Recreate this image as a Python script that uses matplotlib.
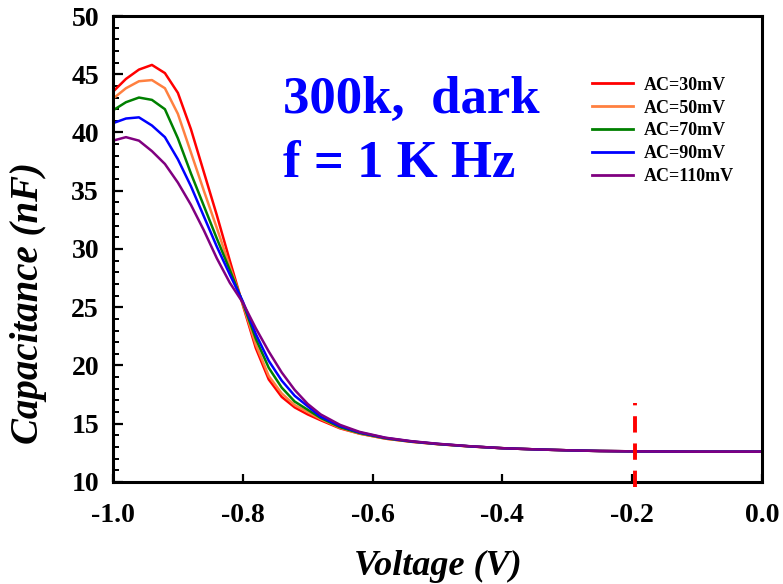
import matplotlib
matplotlib.use("Agg")
import matplotlib.pyplot as plt
from matplotlib.ticker import MultipleLocator

plt.rcParams['font.family'] = ['Liberation Serif', 'DejaVu Serif']
plt.rcParams['font.weight'] = 'bold'

# bias sweep (V)
voltage = [-1.0, -0.98, -0.96, -0.94, -0.92, -0.90, -0.88, -0.86, -0.84, -0.82,
           -0.80, -0.78, -0.76, -0.74, -0.72, -0.70, -0.68, -0.65, -0.62, -0.58,
           -0.54, -0.50, -0.45, -0.40, -0.35, -0.30, -0.25, -0.20, -0.10, 0.0]

# capacitance (nF) for each AC amplitude
cap_30 = [43.5, 44.6, 45.4, 45.8, 45.1, 43.4, 40.3, 36.6, 32.9, 29.0,
          25.2, 21.5, 18.8, 17.3, 16.4, 15.8, 15.3, 14.6, 14.15, 13.72,
          13.45, 13.25, 13.05, 12.9, 12.8, 12.72, 12.66, 12.63, 12.6, 12.6]
cap_50 = [42.9, 43.8, 44.4, 44.5, 43.8, 41.6, 38.3, 35.0, 31.8, 28.5,
          25.3, 21.8, 19.1, 17.6, 16.6, 16.0, 15.4, 14.65, 14.15, 13.72,
          13.45, 13.25, 13.05, 12.9, 12.8, 12.72, 12.66, 12.63, 12.6, 12.6]
cap_70 = [41.9, 42.6, 43.0, 42.8, 42.0, 39.5, 36.5, 33.7, 30.9, 28.2,
          25.4, 22.3, 19.8, 18.1, 16.9, 16.2, 15.5, 14.7, 14.2, 13.75,
          13.47, 13.26, 13.06, 12.9, 12.8, 12.72, 12.66, 12.63, 12.6, 12.6]
cap_90 = [40.8, 41.2, 41.3, 40.6, 39.6, 37.7, 35.4, 32.8, 30.2, 27.8,
          25.5, 22.7, 20.4, 18.7, 17.4, 16.5, 15.6, 14.8, 14.25, 13.78,
          13.48, 13.27, 13.06, 12.9, 12.8, 12.72, 12.66, 12.63, 12.6, 12.6]
cap_110 = [39.3, 39.6, 39.3, 38.4, 37.3, 35.7, 33.8, 31.6, 29.2, 27.1,
           25.4, 23.2, 21.2, 19.4, 17.9, 16.7, 15.8, 14.9, 14.3, 13.8,
           13.5, 13.28, 13.07, 12.9, 12.8, 12.72, 12.66, 12.63, 12.6, 12.6]

series = [cap_30, cap_50, cap_70, cap_90, cap_110]
labels = ['AC=30mV', 'AC=50mV', 'AC=70mV', 'AC=90mV', 'AC=110mV']
colors = ['#ff0000', '#ff8040', '#008000', '#0000ff', '#800080']

# marker position
v_mark = -0.195
mark_span = [9.6, 16.8]

fig = plt.figure(figsize=(7.83, 5.84), dpi=100)
ax = fig.add_axes([0.1443, 0.1747, 0.8289, 0.7979])

for c, lab, col in zip(series, labels, colors):
    ax.plot(voltage, c, color=col, lw=1.8, label=lab)

ax.plot([v_mark, v_mark], mark_span, color='red', lw=2.8,
        dashes=(4.2, 2.8), clip_on=False, zorder=5)

ax.set_xlim(-1.0, 0.0)
ax.set_ylim(10, 50)
ax.yaxis.set_major_locator(MultipleLocator(5))
ax.yaxis.set_minor_locator(MultipleLocator(1))
ax.set_xticks([-1.0, -0.8, -0.6, -0.4, -0.2, 0.0])
ax.set_xticklabels(['-1.0', '-0.8', '-0.6', '-0.4', '-0.2', '0.0'])

for s in ax.spines.values():
    s.set_linewidth(2.2)
ax.tick_params(axis='both', which='both', direction='in', top=False, right=False)
ax.tick_params(axis='x', which='major', length=6, width=1.6, labelsize=20, pad=15)
ax.tick_params(axis='y', which='major', length=7, width=1.6, labelsize=20, pad=10)
ax.tick_params(axis='y', which='minor', length=4, width=1.4)
for t in ax.get_xticklabels() + ax.get_yticklabels():
    t.set_fontweight('bold')

ax.set_xlabel('Voltage (V)', fontsize=26, fontweight='bold', style='italic', labelpad=16)
ax.set_ylabel('Capacitance (nF)', fontsize=28, fontweight='bold', style='italic')
ax.yaxis.set_label_coords(-0.101, 0.384)

ax.text(0.262, 0.792, '300k,  dark', transform=ax.transAxes, color='#0000ff',
        fontsize=38, fontweight='bold', va='baseline', ha='left')
ax.text(0.262, 0.6545, 'f = 1 K Hz', transform=ax.transAxes, color='#0000ff',
        fontsize=38, fontweight='bold', va='baseline', ha='left')

leg = ax.legend(loc='upper left', bbox_to_anchor=(0.738, 0.870), frameon=False,
                fontsize=13, handlelength=2.3, handletextpad=0.55,
                labelspacing=0.33, borderpad=0, borderaxespad=0)
for t in leg.get_texts():
    t.set_fontweight('bold')
for h in leg.get_lines():
    h.set_linewidth(2.0)

fig.savefig('out.png', dpi=100)
